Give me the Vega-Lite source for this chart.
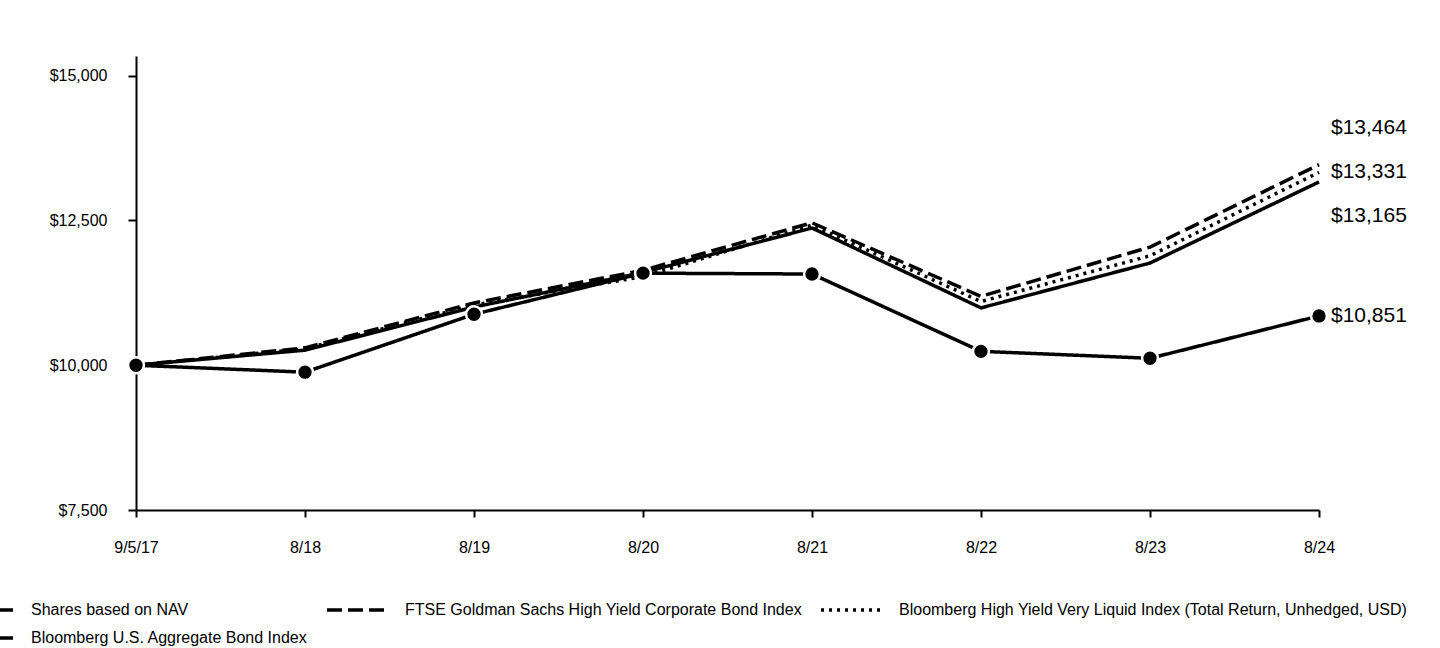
{
  "$schema": "https://vega.github.io/schema/vega-lite/v6.json",
  "autosize": {"type": "none"},
  "width": 1183,
  "height": 454,
  "padding": {"left": 136, "top": 56, "right": 121, "bottom": 138},
  "background": "white",
  "config": {
    "view": {"stroke": null},
    "font": "Liberation Sans",
    "axis": {"domainColor": "#000", "domainWidth": 2, "tickColor": "#000", "tickWidth": 2, "tickSize": 8, "labelColor": "#000", "labelFontSize": 16, "grid": false, "title": null}
  },
  "data": {
    "values": [
      {"date": "9/5/17", "series": "Shares based on NAV", "value": 10000},
      {"date": "8/18", "series": "Shares based on NAV", "value": 10260},
      {"date": "8/19", "series": "Shares based on NAV", "value": 11005},
      {"date": "8/20", "series": "Shares based on NAV", "value": 11600},
      {"date": "8/21", "series": "Shares based on NAV", "value": 12370},
      {"date": "8/22", "series": "Shares based on NAV", "value": 10990},
      {"date": "8/23", "series": "Shares based on NAV", "value": 11765},
      {"date": "8/24", "series": "Shares based on NAV", "value": 13165},
      {"date": "9/5/17", "series": "FTSE Goldman Sachs High Yield Corporate Bond Index", "value": 10000},
      {"date": "8/18", "series": "FTSE Goldman Sachs High Yield Corporate Bond Index", "value": 10300},
      {"date": "8/19", "series": "FTSE Goldman Sachs High Yield Corporate Bond Index", "value": 11075},
      {"date": "8/20", "series": "FTSE Goldman Sachs High Yield Corporate Bond Index", "value": 11640},
      {"date": "8/21", "series": "FTSE Goldman Sachs High Yield Corporate Bond Index", "value": 12460},
      {"date": "8/22", "series": "FTSE Goldman Sachs High Yield Corporate Bond Index", "value": 11190},
      {"date": "8/23", "series": "FTSE Goldman Sachs High Yield Corporate Bond Index", "value": 12040},
      {"date": "8/24", "series": "FTSE Goldman Sachs High Yield Corporate Bond Index", "value": 13464},
      {"date": "9/5/17", "series": "Bloomberg High Yield Very Liquid Index (Total Return, Unhedged, USD)", "value": 10000},
      {"date": "8/18", "series": "Bloomberg High Yield Very Liquid Index (Total Return, Unhedged, USD)", "value": 10285},
      {"date": "8/19", "series": "Bloomberg High Yield Very Liquid Index (Total Return, Unhedged, USD)", "value": 11040},
      {"date": "8/20", "series": "Bloomberg High Yield Very Liquid Index (Total Return, Unhedged, USD)", "value": 11530},
      {"date": "8/21", "series": "Bloomberg High Yield Very Liquid Index (Total Return, Unhedged, USD)", "value": 12420},
      {"date": "8/22", "series": "Bloomberg High Yield Very Liquid Index (Total Return, Unhedged, USD)", "value": 11100},
      {"date": "8/23", "series": "Bloomberg High Yield Very Liquid Index (Total Return, Unhedged, USD)", "value": 11890},
      {"date": "8/24", "series": "Bloomberg High Yield Very Liquid Index (Total Return, Unhedged, USD)", "value": 13331},
      {"date": "9/5/17", "series": "Bloomberg U.S. Aggregate Bond Index", "value": 10000},
      {"date": "8/18", "series": "Bloomberg U.S. Aggregate Bond Index", "value": 9880},
      {"date": "8/19", "series": "Bloomberg U.S. Aggregate Bond Index", "value": 10880},
      {"date": "8/20", "series": "Bloomberg U.S. Aggregate Bond Index", "value": 11590},
      {"date": "8/21", "series": "Bloomberg U.S. Aggregate Bond Index", "value": 11575},
      {"date": "8/22", "series": "Bloomberg U.S. Aggregate Bond Index", "value": 10240},
      {"date": "8/23", "series": "Bloomberg U.S. Aggregate Bond Index", "value": 10120},
      {"date": "8/24", "series": "Bloomberg U.S. Aggregate Bond Index", "value": 10851}
    ]
  },
  "encoding": {
    "x": {
      "field": "date", "type": "ordinal",
      "sort": ["9/5/17", "8/18", "8/19", "8/20", "8/21", "8/22", "8/23", "8/24"],
      "scale": {"type": "point", "padding": 0},
      "axis": {"labelAngle": 0, "labelPadding": 22, "tickSize": 7}
    },
    "y": {
      "field": "value", "type": "quantitative",
      "scale": {"domain": [7500, 15340], "nice": false, "zero": false},
      "axis": {"values": [7500, 10000, 12500, 15000], "format": "$,.0f", "labelPadding": 21}
    }
  },
  "layer": [
    {
      "mark": {"type": "line", "color": "#000", "strokeWidth": 3.5},
      "encoding": {
        "strokeDash": {
          "field": "series", "type": "nominal",
          "scale": {
            "domain": ["Shares based on NAV", "FTSE Goldman Sachs High Yield Corporate Bond Index", "Bloomberg High Yield Very Liquid Index (Total Return, Unhedged, USD)", "Bloomberg U.S. Aggregate Bond Index"],
            "range": [[1, 0], [15, 6], [3, 5], [1, 0]]
          },
          "legend": {
            "title": null, "orient": "none", "legendX": -165, "legendY": 542,
            "direction": "horizontal", "columns": 3, "gridAlign": "each",
            "columnPadding": 12, "rowPadding": 8,
            "symbolType": "M-3,0H3", "symbolSize": 400, "symbolStrokeWidth": 3.5, "symbolStrokeColor": "#000",
            "labelOffset": 36, "labelFontSize": 16, "labelColor": "#000", "labelLimit": 0
          }
        }
      }
    },
    {
      "transform": [{"filter": "datum.series === 'Bloomberg U.S. Aggregate Bond Index'"}],
      "mark": {"type": "point", "shape": "circle", "filled": true, "fill": "#000", "size": 250, "stroke": "#fff", "strokeWidth": 2.5, "opacity": 1}
    },
    {
      "transform": [{"filter": "datum.date === '8/24' && (datum.series === 'Bloomberg U.S. Aggregate Bond Index' || datum.series === 'Bloomberg High Yield Very Liquid Index (Total Return, Unhedged, USD)')"}],
      "mark": {"type": "text", "align": "left", "baseline": "middle", "dx": 12, "fontSize": 21, "color": "#000"},
      "encoding": {"text": {"field": "value", "type": "quantitative", "format": "$,.0f"}}
    },
    {
      "transform": [{"filter": "datum.date === '8/24' && datum.series === 'FTSE Goldman Sachs High Yield Corporate Bond Index'"}],
      "mark": {"type": "text", "align": "left", "baseline": "middle", "dx": 12, "dy": -37, "fontSize": 21, "color": "#000"},
      "encoding": {"text": {"field": "value", "type": "quantitative", "format": "$,.0f"}}
    },
    {
      "transform": [{"filter": "datum.date === '8/24' && datum.series === 'Shares based on NAV'"}],
      "mark": {"type": "text", "align": "left", "baseline": "middle", "dx": 12, "dy": 34, "fontSize": 21, "color": "#000"},
      "encoding": {"text": {"field": "value", "type": "quantitative", "format": "$,.0f"}}
    }
  ]
}
